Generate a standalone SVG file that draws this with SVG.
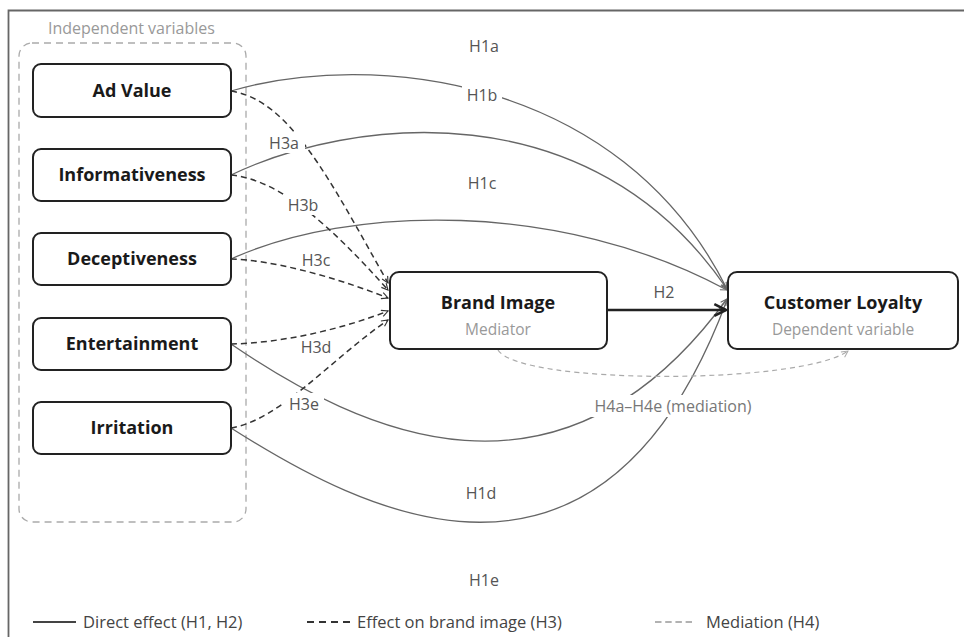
<svg xmlns="http://www.w3.org/2000/svg" width="964" height="637" viewBox="0 0 964 637">
<defs>
<style>
text{font-family:"Open Sans","Noto Sans","Liberation Sans",sans-serif}
.frame{stroke:#666;stroke-width:1.8;fill:none}
.box{fill:#fff;stroke:#222;stroke-width:2}
.group{fill:none;stroke:#aaa;stroke-width:1.3;stroke-dasharray:7 5}
.nt{font-size:18px;font-weight:700;fill:#1a1a1a;text-anchor:middle}
.sub{font-size:15.5px;fill:#999;text-anchor:middle}
.grp{font-size:16px;fill:#999}
.direct{fill:none;stroke:#666;stroke-width:1.3}
.h3{fill:none;stroke:#333;stroke-width:1.5;stroke-dasharray:6 4}
.med{fill:none;stroke:#aaa;stroke-width:1.2;stroke-dasharray:5 4}
.h2{fill:none;stroke:#222;stroke-width:2.6}
.lb{fill:#fff}
.el{font-size:16px;fill:#555;text-anchor:middle}
.elg{font-size:16px;fill:#777;text-anchor:middle}
.leg{font-size:16.5px;fill:#444}
</style>
<marker id="aDir" viewBox="0 0 10 10" refX="9" refY="5" markerWidth="8" markerHeight="8" markerUnits="userSpaceOnUse" orient="auto"><path d="M1,1 L9,5 L1,9" fill="none" stroke="#666" stroke-width="1.3"/></marker>
<marker id="aH3" viewBox="0 0 10 10" refX="9" refY="5" markerWidth="8" markerHeight="8" markerUnits="userSpaceOnUse" orient="auto"><path d="M1,1 L9,5 L1,9" fill="none" stroke="#333" stroke-width="1.4"/></marker>
<marker id="aMed" viewBox="0 0 10 10" refX="9" refY="5" markerWidth="8" markerHeight="8" markerUnits="userSpaceOnUse" orient="auto"><path d="M1,1 L9,5 L1,9" fill="none" stroke="#aaa" stroke-width="1.2"/></marker>
<marker id="aH2" viewBox="0 0 12 12" refX="11" refY="6" markerWidth="14" markerHeight="14" markerUnits="userSpaceOnUse" orient="auto"><path d="M1,1 L11,6 L1,11" fill="none" stroke="#222" stroke-width="2.2"/></marker>
</defs>
<rect width="964" height="637" fill="#fff"/>
<path class="frame" d="M8.5 637 V10.5 H964"/>

<g id="group-independent">
<rect class="group" x="19" y="43" width="227" height="479" rx="13"/>
<text class="grp" x="48" y="34">Independent variables</text>
</g>

<g id="connectors">
<path class="direct" d="M231 91 C370 50 620 75 727 289" marker-end="url(#aDir)"/>
<path class="direct" d="M231 175 C350 118 590 88 727 289" marker-end="url(#aDir)"/>
<path class="direct" d="M231 259 C350 205 560 200 727 290" marker-end="url(#aDir)"/>
<path class="direct" d="M231 344 C360 432 560 528 727 299" marker-end="url(#aDir)"/>
<path class="direct" d="M231 428 C360 510 600 640 727 300" marker-end="url(#aDir)"/>
<path class="h3" d="M231 91 C290 100 330 180 388 283" marker-end="url(#aH3)"/>
<path class="h3" d="M231 175 C280 180 330 225 388 290" marker-end="url(#aH3)"/>
<path class="h3" d="M231 259 C270 260 330 275 388 298" marker-end="url(#aH3)"/>
<path class="h3" d="M231 344 C280 343 340 330 388 311" marker-end="url(#aH3)"/>
<path class="h3" d="M231 428 C280 420 330 360 388 320" marker-end="url(#aH3)"/>
<path class="med" d="M498 350 C520 385 800 385 848 351" marker-end="url(#aMed)"/>
<path class="h2" d="M607 310 H726" marker-end="url(#aH2)"/>
<g id="edge-labels">
<rect class="lb" x="465" y="35" width="38" height="21"/><text class="el" x="484" y="52">H1a</text>
<rect class="lb" x="462" y="84" width="40" height="21"/><text class="el" x="482" y="101">H1b</text>
<rect class="lb" x="463" y="172" width="38" height="21"/><text class="el" x="482" y="189">H1c</text>
<rect class="lb" x="462" y="482" width="38" height="21"/><text class="el" x="481" y="499">H1d</text>
<rect class="lb" x="465" y="569" width="38" height="21"/><text class="el" x="484" y="586">H1e</text>
<rect class="lb" x="650" y="281" width="28" height="19"/><text class="el" x="664" y="298">H2</text>
<rect class="lb" x="263" y="132" width="42" height="21"/><text class="el" x="284" y="149">H3a</text>
<rect class="lb" x="284" y="194" width="38" height="21"/><text class="el" x="303" y="211">H3b</text>
<rect class="lb" x="297" y="249" width="38" height="20"/><text class="el" x="316" y="266">H3c</text>
<rect class="lb" x="297" y="338" width="38" height="19"/><text class="el" x="316" y="353">H3d</text>
<rect class="lb" x="284" y="393" width="40" height="21"/><text class="el" x="304" y="410">H3e</text>
<rect class="lb" x="586" y="395" width="174" height="22"/><text class="elg" x="673" y="412">H4a–H4e (mediation)</text>
</g>
</g>

<g id="node-ad-value"><rect class="box" x="33" y="64" width="198" height="53" rx="8"/><text class="nt" x="132" y="97">Ad Value</text></g>
<g id="node-informativeness"><rect class="box" x="33" y="149" width="198" height="52" rx="8"/><text class="nt" x="132" y="181">Informativeness</text></g>
<g id="node-deceptiveness"><rect class="box" x="33" y="233" width="198" height="52" rx="8"/><text class="nt" x="132" y="265">Deceptiveness</text></g>
<g id="node-entertainment"><rect class="box" x="33" y="318" width="198" height="52" rx="8"/><text class="nt" x="132" y="350">Entertainment</text></g>
<g id="node-irritation"><rect class="box" x="33" y="402" width="198" height="52" rx="8"/><text class="nt" x="132" y="434">Irritation</text></g>
<g id="node-brand-image"><rect class="box" x="390" y="272" width="217" height="77" rx="9"/><text class="nt" x="498" y="309">Brand Image</text><text class="sub" x="498" y="335">Mediator</text></g>
<g id="node-customer-loyalty"><rect class="box" x="728" y="272" width="230" height="77" rx="9"/><text class="nt" x="843" y="309">Customer Loyalty</text><text class="sub" x="843" y="335">Dependent variable</text></g>

<g id="legend">
<line x1="33" y1="622" x2="76" y2="622" stroke="#444" stroke-width="2"/>
<text class="leg" x="83" y="628">Direct effect (H1, H2)</text>
<line x1="307" y1="622" x2="350" y2="622" stroke="#333" stroke-width="2" stroke-dasharray="7 5"/>
<text class="leg" x="357" y="628">Effect on brand image (H3)</text>
<line x1="655" y1="622" x2="692" y2="622" stroke="#999" stroke-width="1.6" stroke-dasharray="6.5 3.7"/>
<text class="leg" x="706" y="628">Mediation (H4)</text>
</g>
</svg>
